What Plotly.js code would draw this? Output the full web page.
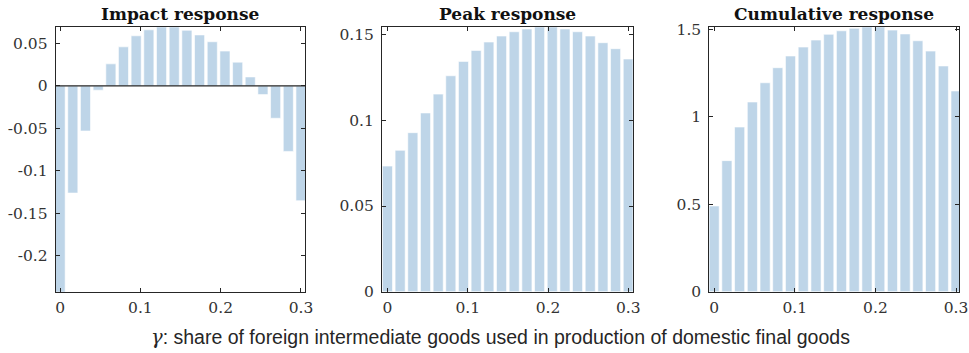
<!DOCTYPE html>
<html><head><meta charset="utf-8">
<script src="https://cdn.plot.ly/plotly-3.0.1.min.js"></script>
<style>html,body{margin:0;padding:0;background:#fff;}#plot{width:969px;height:353px;}</style>
</head><body><div id="plot"></div>
<script>
// gamma grid: 20 points from 0 to 0.3
const gamma = [0,0.0158,0.0316,0.0474,0.0632,0.0789,0.0947,0.1105,0.1263,0.1421,
               0.1579,0.1737,0.1895,0.2053,0.2211,0.2368,0.2526,0.2684,0.2842,0.3];
const impactResp = [-0.30,-0.126,-0.053,-0.005,0.026,0.046,0.059,0.066,0.070,0.070,
                    0.0655,0.060,0.052,0.041,0.028,0.0106,-0.0102,-0.038,-0.077,-0.135];
const peakResp = [0.0733,0.0825,0.0928,0.1043,0.1153,0.126,0.1344,0.1408,0.1457,0.1492,
                  0.1517,0.1533,0.155,0.155,0.1533,0.1517,0.1492,0.1453,0.1418,0.1358];
const cumResp = [0.49,0.749,0.941,1.084,1.194,1.28,1.347,1.398,1.438,1.471,
                 1.491,1.505,1.52,1.52,1.495,1.473,1.434,1.375,1.29,1.147];
const titles = ["Impact response","Peak response","Cumulative response"];
const xTickVals = [0,0.1,0.2,0.3];
const xTickText = ["0","0.1","0.2","0.3"];
const yTick1Vals = [-0.2,-0.15,-0.1,-0.05,0,0.05];
const yTick1Text = ["-0.2","-0.15","-0.1","-0.05","0","0.05"];
const yTick2Vals = [0,0.05,0.1,0.15];
const yTick2Text = ["0","0.05","0.1","0.15"];
const yTick3Vals = [0,0.5,1,1.5];
const yTick3Text = ["0","0.5","1","1.5"];
const xLabel = "<i style='font-family:\"DejaVu Serif\",serif'>γ</i>: share of foreign intermediate goods used in production of domestic final goods";

const barColor = "#bed5e8";
const axCol = "#262626";
const series = [impactResp, peakResp, cumResp];
const traces = series.map((s,i)=>({
  type:"bar", x:gamma, y:s, xaxis: i===0?"x":"x"+(i+1), yaxis: i===0?"y":"y"+(i+1),
  marker:{color:barColor, line:{color:"#ffffff", width:0.6}}, hoverinfo:"skip", showlegend:false
}));

const tickFont = {family:"DejaVu Serif, serif", size:15.5, color:"#333333"};
function xa(dom, rng, anchor){return {domain:dom, range:rng, tickvals:xTickVals, ticktext:xTickText, ticks:"inside", ticklen:4,
  tickcolor:axCol, showline:true, linecolor:axCol, linewidth:1, mirror:"ticks", showgrid:false, zeroline:false,
  tickfont:tickFont, anchor:anchor, layer:"above traces", ticklabelstandoff:2};}
function ya(rng, tv, tt, anchor){return {domain:[0.1737,0.9227], range:rng, tickvals:tv, ticktext:tt, ticks:"inside", ticklen:4,
  tickcolor:axCol, showline:true, linecolor:axCol, linewidth:1, mirror:"ticks", showgrid:false,
  zeroline:false, tickfont:tickFont, anchor:anchor, ticklabelstandoff:4, layer:"above traces"};}

const xd1=[55.7/969,305/969], xd2=[382/969,632.7/969], xd3=[709.3/969,959.3/969];
const layout = {
  width:969, height:353, margin:{l:0,r:0,t:0,b:0}, paper_bgcolor:"#fff", plot_bgcolor:"#fff",
  bargap:0.2,
  xaxis: xa(xd1,[-0.0055,0.305],"y"),
  xaxis2: xa(xd2,[-0.0068,0.3055],"y2"),
  xaxis3: xa(xd3,[-0.006,0.304],"y3"),
  yaxis: ya([-0.242,0.069], yTick1Vals, yTick1Text, "x"),
  yaxis2: ya([0,0.1543], yTick2Vals, yTick2Text, "x2"),
  yaxis3: ya([0,1.511], yTick3Vals, yTick3Text, "x3"),
  shapes: [{type:"line", layer:"above", xref:"x domain", yref:"y", x0:0, x1:1, y0:0, y1:0,
            line:{color:axCol, width:1.2}}],
  annotations: titles.map((t,i)=>({text:"<b>"+t+"</b>", xref:"paper", yref:"paper",
      x:[(xd1[0]+xd1[1])/2,(xd2[0]+xd2[1])/2,(xd3[0]+xd3[1])/2][i], y:1-14/353, xanchor:"center", yanchor:"middle",
      showarrow:false, font:{family:"DejaVu Serif, serif", size:17, color:"#111"}}))
    .concat([{text:xLabel, xref:"paper", yref:"paper", x:500/969, y:1-337/353, xanchor:"center", yanchor:"middle",
      showarrow:false, font:{family:"Liberation Sans, Arial, sans-serif", size:19.5, color:"#262626"}}])
};
Plotly.newPlot("plot", traces, layout, {staticPlot:true, displayModeBar:false});
</script></body></html>
